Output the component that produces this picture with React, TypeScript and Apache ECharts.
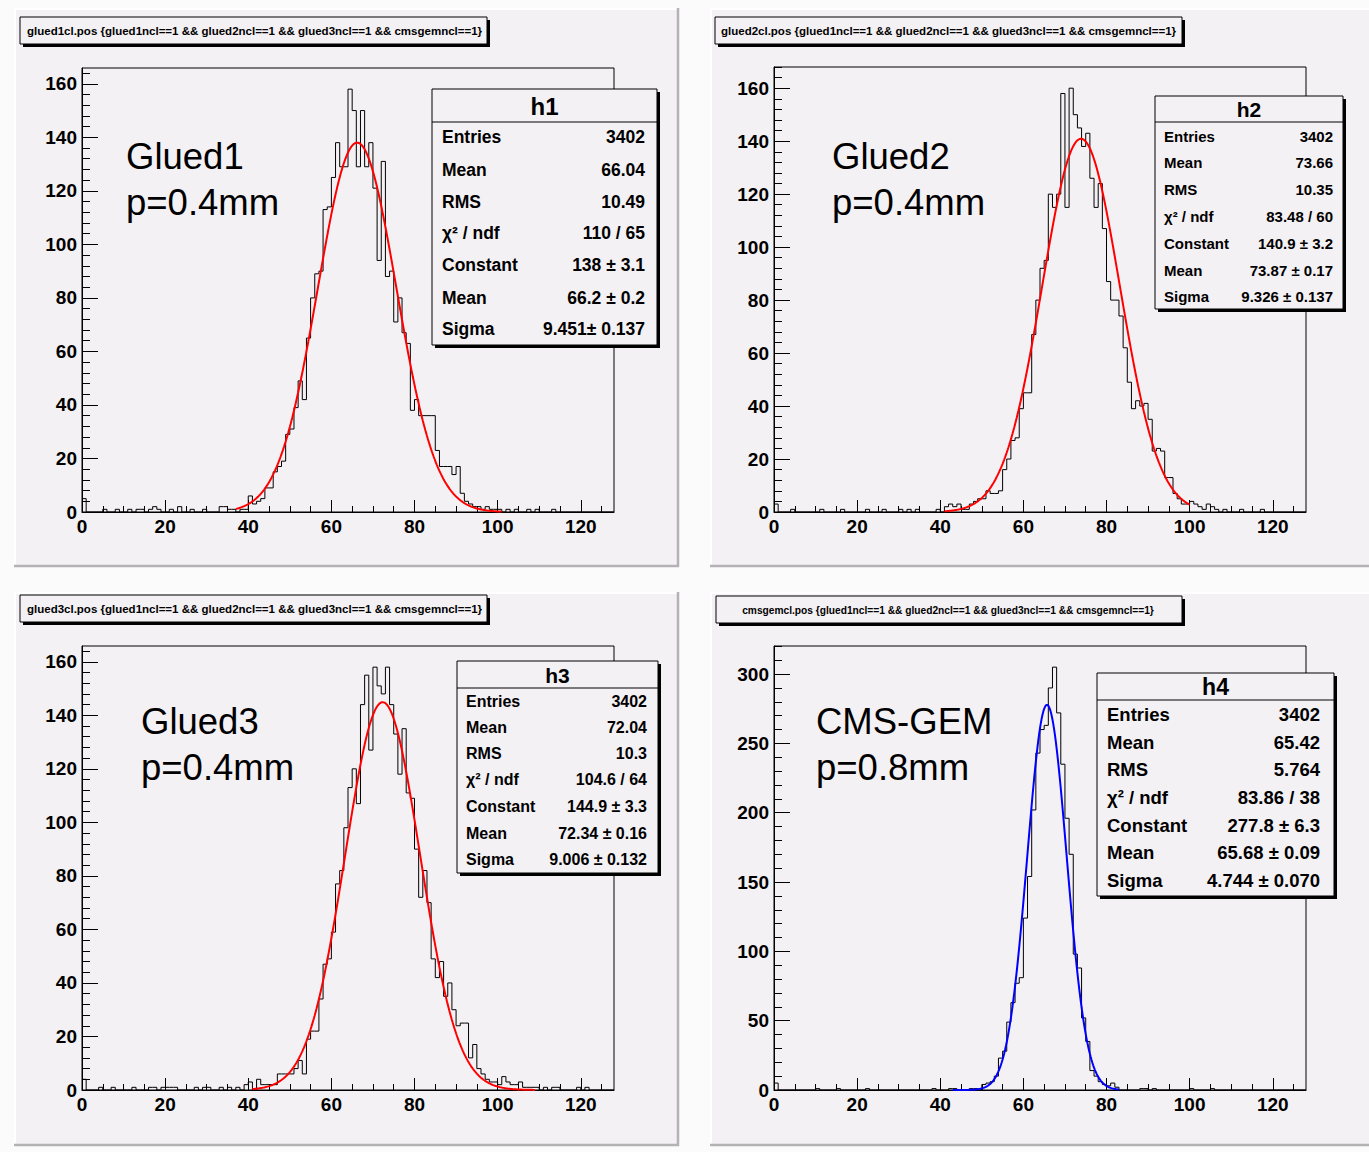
import React, { useEffect, useRef } from "react";
import * as echarts from "echarts";

const W = 1369;
const H = 1152;
const FONT = '"Liberation Sans", Arial, Helvetica, sans-serif';

// ---------- DATA ----------
// bin contents, bins of width 1 from 0 to 128
const h1Counts = [
  5, 0, 0, 0, 0, 1, 0, 0, 1, 0,
  0, 1, 0, 1, 1, 0, 1, 2, 1, 0,
  0, 1, 0, 2, 0, 0, 1, 0, 0, 1,
  0, 0, 0, 2, 2, 1, 1, 0, 1, 1,
  6, 3, 4, 5, 9, 9, 15, 17, 19, 29,
  31, 39, 49, 42, 65, 80, 89, 90, 113, 114,
  125, 138, 129, 129, 158, 150, 129, 150, 129, 138,
  121, 94, 131, 88, 90, 71, 80, 67, 63, 38,
  42, 36, 36, 36, 36, 23, 17, 17, 17, 14,
  17, 7, 4, 3, 2, 2, 1, 2, 1, 1,
  1, 0, 1, 0, 1, 0, 0, 1, 0, 1,
  0, 0, 0, 1, 0, 0, 0, 0, 0, 0,
  0, 0, 0, 0, 0, 0, 0, 0,
];
const h2Counts = [
  3, 0, 0, 0, 1, 0, 0, 0, 0, 0,
  0, 1, 0, 0, 0, 0, 1, 0, 0, 0,
  0, 0, 1, 0, 0, 0, 1, 0, 0, 0,
  1, 0, 1, 0, 1, 0, 0, 0, 0, 1,
  0, 2, 3, 2, 3, 1, 1, 3, 4, 5,
  5, 8, 7, 7, 8, 16, 20, 27, 28, 39,
  45, 45, 67, 80, 92, 95, 120, 115, 120, 158,
  115, 160, 150, 145, 138, 143, 126, 115, 124, 107,
  87, 80, 80, 74, 62, 49, 39, 42, 40, 41,
  35, 23, 24, 23, 13, 13, 7, 5, 3, 3,
  4, 3, 2, 1, 3, 2, 1, 0, 1, 0,
  0, 0, 1, 0, 0, 0, 0, 1, 0, 0,
  0, 0, 0, 0, 0, 0, 0, 0,
];
const h3Counts = [
  4, 0, 0, 0, 1, 0, 0, 1, 0, 0,
  0, 0, 1, 0, 0, 0, 1, 1, 0, 1,
  1, 1, 1, 0, 0, 0, 0, 1, 0, 1,
  1, 0, 0, 1, 0, 1, 0, 1, 0, 2,
  3, 0, 4, 2, 2, 2, 2, 6, 6, 6,
  6, 8, 11, 6, 19, 22, 22, 34, 47, 49,
  59, 77, 82, 98, 113, 120, 107, 144, 155, 127,
  158, 151, 148, 158, 144, 133, 118, 135, 111, 109,
  90, 72, 82, 70, 49, 42, 48, 35, 40, 30,
  24, 25, 25, 12, 17, 8, 6, 4, 3, 3,
  2, 5, 3, 2, 2, 3, 1, 1, 1, 1,
  0, 1, 0, 1, 1, 0, 0, 0, 0, 1,
  0, 1, 0, 0, 0, 0, 0, 0,
];
const h4Counts = [
  5, 0, 0, 0, 0, 0, 0, 0, 0, 0,
  1, 0, 0, 0, 0, 1, 0, 0, 0, 0,
  0, 0, 1, 0, 0, 0, 0, 0, 0, 0,
  0, 0, 0, 0, 0, 0, 0, 0, 1, 0,
  0, 0, 1, 1, 0, 0, 0, 1, 1, 0,
  4, 5, 6, 10, 23, 28, 49, 63, 77, 81,
  124, 154, 202, 243, 260, 263, 290, 305, 272, 235,
  196, 170, 98, 88, 52, 35, 14, 10, 6, 4,
  3, 5, 2, 0, 0, 0, 0, 0, 1, 1,
  0, 1, 0, 0, 0, 0, 0, 0, 0, 0,
  1, 0, 0, 0, 0, 1, 0, 0, 0, 0,
  0, 0, 0, 0, 0, 0, 0, 0, 0, 0,
  0, 0, 0, 0, 0, 0, 0, 0,
];
const histCounts = [h1Counts, h2Counts, h3Counts, h4Counts];

const histNames = ["h1", "h2", "h3", "h4"];
const drawTitles = [
  "glued1cl.pos {glued1ncl==1 && glued2ncl==1 && glued3ncl==1 && cmsgemncl==1}",
  "glued2cl.pos {glued1ncl==1 && glued2ncl==1 && glued3ncl==1 && cmsgemncl==1}",
  "glued3cl.pos {glued1ncl==1 && glued2ncl==1 && glued3ncl==1 && cmsgemncl==1}",
  "cmsgemcl.pos {glued1ncl==1 && glued2ncl==1 && glued3ncl==1 && cmsgemncl==1}",
];
const panelLabels = [
  ["Glued1", "p=0.4mm"],
  ["Glued2", "p=0.4mm"],
  ["Glued3", "p=0.4mm"],
  ["CMS-GEM", "p=0.8mm"],
];
const statLabels = ["Entries", "Mean", "RMS", "χ² / ndf", "Constant", "Mean", "Sigma"];
const h1Stats = ["3402", "66.04", "10.49", "110 / 65", "138 ± 3.1", "66.2 ± 0.2", "9.451± 0.137"];
const h2Stats = ["3402", "73.66", "10.35", "83.48 / 60", "140.9 ± 3.2", "73.87 ± 0.17", "9.326 ± 0.137"];
const h3Stats = ["3402", "72.04", "10.3", "104.6 / 64", "144.9 ± 3.3", "72.34 ± 0.16", "9.006 ± 0.132"];
const h4Stats = ["3402", "65.42", "5.764", "83.86 / 38", "277.8 ± 6.3", "65.68 ± 0.09", "4.744 ± 0.070"];
const statValues = [h1Stats, h2Stats, h3Stats, h4Stats];

// Gaussian fit parameters (as displayed in the stat boxes)
const fitConstant = [138, 140.9, 144.9, 277.8];
const fitMean = [66.2, 73.87, 72.34, 65.68];
const fitSigma = [9.451, 9.326, 9.006, 4.744];
const fitRangeLow = [37, 41, 41, 43];
const fitRangeHigh = [101, 100, 109, 83];
const fitColors = ["#ff0000", "#ff0000", "#ff0000", "#0000ff"];

const xMin = 0;
const xMax = 128;
const xTickLabels = [0, 20, 40, 60, 80, 100, 120];
const yTickLabelsSmall = [0, 20, 40, 60, 80, 100, 120, 140, 160];
const yTickLabelsLarge = [0, 50, 100, 150, 200, 250, 300];
const yTickSets = [yTickLabelsSmall, yTickLabelsSmall, yTickLabelsSmall, yTickLabelsLarge];
const yMinorSteps = [4, 4, 4, 10];
const xMinorStep = 5;

// ---------- LAYOUT ----------
const layout = [
  {
    pad: { x: 14, y: 8, w: 665, h: 559 },
    grid: { left: 82, top: 68, width: 532, height: 444 },
    title: { x: 20, y: 17, w: 467, h: 27, tx: 27, align: "left", size: 11.5 },
    stat: { x: 432, y: 89, w: 225, h: 256, line: 122, headY: 106, rows: [137, 170, 202, 233, 265, 298, 329], lx: 442, rx: 645, size: 17.5, head: 24 },
    label: { x: 126, y: [156, 202] },
  },
  {
    pad: { x: 710, y: 8, w: 665, h: 559 },
    grid: { left: 774, top: 67, width: 532, height: 445 },
    title: { x: 715, y: 17, w: 467, h: 27, tx: 721, align: "left", size: 11.5 },
    stat: { x: 1155, y: 96, w: 188, h: 213, line: 122, headY: 109, rows: [136, 162, 189, 216, 243, 270, 296], lx: 1164, rx: 1333, size: 15, head: 21 },
    label: { x: 832, y: [156, 202] },
  },
  {
    pad: { x: 14, y: 592, w: 665, h: 554 },
    grid: { left: 82, top: 646, width: 532, height: 444 },
    title: { x: 20, y: 595, w: 467, h: 27, tx: 27, align: "left", size: 11.5 },
    stat: { x: 457, y: 661, w: 201, h: 212, line: 688, headY: 675, rows: [701, 727, 753, 779, 806, 833, 859], lx: 466, rx: 647, size: 16, head: 21 },
    label: { x: 141, y: [721, 767] },
  },
  {
    pad: { x: 710, y: 592, w: 665, h: 554 },
    grid: { left: 774, top: 646, width: 532, height: 444 },
    title: { x: 716, y: 596, w: 466, h: 27, tx: 948, align: "center", size: 10.2 },
    stat: { x: 1097, y: 673, w: 237, h: 223, line: 700, headY: 687, rows: [714, 742, 769, 797, 825, 852, 880], lx: 1107, rx: 1320, size: 18.5, head: 23 },
    label: { x: 816, y: [721, 767] },
  },
];

const PAD_FILL = "#f4f1f4";
const PAGE_FILL = "#fcfbfc";

function tickRange(step: number, max: number) {
  const out: number[] = [];
  for (let v = 0; v <= max + 1e-9; v += step) out.push(v);
  return out;
}

function buildOption() {
  const grids: any[] = [];
  const xAxes: any[] = [];
  const yAxes: any[] = [];
  const series: any[] = [];
  const graphics: any[] = [];

  layout.forEach((L) => {
    grids.push({
      left: L.grid.left, top: L.grid.top, width: L.grid.width, height: L.grid.height,
      show: true, borderColor: "#000", borderWidth: 1, backgroundColor: "transparent",
      containLabel: false,
    });
  });
  layout.forEach((L) => {
    grids.push({
      left: L.grid.left, top: L.grid.top, width: L.grid.width, height: L.grid.height,
      show: false, containLabel: false,
    });
  });

  const labelStyle = { color: "#000", fontFamily: FONT, fontWeight: "bold", fontSize: 19 };

  histCounts.forEach((counts, i) => {
    const yMax = Math.max(...counts) * 1.05;
    const yTicks = yTickSets[i];
    xAxes.push({
      type: "value", gridIndex: i, min: xMin, max: xMax,
      axisLine: { show: true, onZero: false, lineStyle: { color: "#000", width: 1 } },
      axisTick: { show: true, inside: true, length: 12, customValues: xTickLabels, lineStyle: { color: "#000", width: 1 } },
      axisLabel: { show: true, customValues: xTickLabels, margin: 5, ...labelStyle },
      splitLine: { show: false },
    });
    yAxes.push({
      type: "value", gridIndex: i, min: 0, max: yMax,
      axisLine: { show: true, onZero: false, lineStyle: { color: "#000", width: 1 } },
      axisTick: { show: true, inside: true, length: 16, customValues: yTicks, lineStyle: { color: "#000", width: 1 } },
      axisLabel: { show: true, customValues: yTicks, margin: 5, ...labelStyle },
      splitLine: { show: false },
    });

    const histData = counts.map((v, k) => [xMin + k, v]);
    histData.push([xMin + counts.length, counts[counts.length - 1]]);
    series.push({
      type: "line", xAxisIndex: i, yAxisIndex: i, step: "end", symbol: "none",
      data: histData, lineStyle: { color: "#000", width: 1 }, z: 3, silent: true, animation: false,
    });

    const fitData: number[][] = [];
    for (let x = fitRangeLow[i]; x <= fitRangeHigh[i] + 1e-9; x += 0.2) {
      const d = (x - fitMean[i]) / fitSigma[i];
      fitData.push([x, fitConstant[i] * Math.exp(-0.5 * d * d)]);
    }
    series.push({
      type: "line", xAxisIndex: i, yAxisIndex: i, symbol: "none", smooth: false,
      data: fitData, lineStyle: { color: fitColors[i], width: 2 }, z: 4, silent: true, animation: false,
    });
  });

  histCounts.forEach((counts, i) => {
    const yMax = Math.max(...counts) * 1.05;
    xAxes.push({
      type: "value", gridIndex: i + 4, min: xMin, max: xMax,
      axisLine: { show: false },
      axisTick: { show: true, inside: true, length: 6, customValues: tickRange(xMinorStep, xMax), lineStyle: { color: "#000", width: 1 } },
      axisLabel: { show: false },
      splitLine: { show: false },
    });
    yAxes.push({
      type: "value", gridIndex: i + 4, min: 0, max: yMax,
      axisLine: { show: false },
      axisTick: { show: true, inside: true, length: 8, customValues: tickRange(yMinorSteps[i], yMax), lineStyle: { color: "#000", width: 1 } },
      axisLabel: { show: false },
      splitLine: { show: false },
    });
  });

  graphics.push({ type: "rect", z: -20, shape: { x: 0, y: 0, width: W, height: H }, style: { fill: PAGE_FILL } });
  layout.forEach((L, i) => {
    const p = L.pad;
    graphics.push({ type: "rect", z: -15, shape: { x: p.x, y: p.y, width: p.w, height: p.h }, style: { fill: PAD_FILL } });
    graphics.push({ type: "line", z: -14, shape: { x1: p.x, y1: p.y + 1, x2: p.x + p.w, y2: p.y + 1 }, style: { stroke: "#ffffff", lineWidth: 2 } });
    graphics.push({ type: "line", z: -14, shape: { x1: p.x + 1, y1: p.y, x2: p.x + 1, y2: p.y + p.h }, style: { stroke: "#ffffff", lineWidth: 2 } });
    graphics.push({ type: "line", z: -14, shape: { x1: p.x + p.w - 1, y1: p.y, x2: p.x + p.w - 1, y2: p.y + p.h }, style: { stroke: "#b4b2b4", lineWidth: 2.5 } });
    graphics.push({ type: "line", z: -14, shape: { x1: p.x, y1: p.y + p.h - 1, x2: p.x + p.w, y2: p.y + p.h - 1 }, style: { stroke: "#b4b2b4", lineWidth: 2.5 } });

    const t = L.title;
    graphics.push({ type: "rect", z: 20, shape: { x: t.x + 3, y: t.y + 3, width: t.w, height: t.h }, style: { fill: "#000" } });
    graphics.push({ type: "rect", z: 21, shape: { x: t.x, y: t.y, width: t.w, height: t.h }, style: { fill: PAD_FILL, stroke: "#000", lineWidth: 1 } });
    graphics.push({
      type: "text", z: 22, x: t.tx, y: t.y + t.h / 2 + 0.5,
      style: { text: drawTitles[i], fill: "#000", font: `bold ${t.size}px ${FONT}`, textAlign: t.align, textVerticalAlign: "middle" },
    });

    const s = L.stat;
    graphics.push({ type: "rect", z: 20, shape: { x: s.x + 3, y: s.y + 3, width: s.w, height: s.h }, style: { fill: "#000" } });
    graphics.push({ type: "rect", z: 21, shape: { x: s.x, y: s.y, width: s.w, height: s.h }, style: { fill: PAD_FILL, stroke: "#000", lineWidth: 1 } });
    graphics.push({ type: "line", z: 22, shape: { x1: s.x, y1: s.line, x2: s.x + s.w, y2: s.line }, style: { stroke: "#000", lineWidth: 1 } });
    graphics.push({
      type: "text", z: 22, x: s.x + s.w / 2, y: s.headY,
      style: { text: histNames[i], fill: "#000", font: `bold ${s.head}px ${FONT}`, textAlign: "center", textVerticalAlign: "middle" },
    });
    statLabels.forEach((lab, r) => {
      graphics.push({
        type: "text", z: 22, x: s.lx, y: s.rows[r],
        style: { text: lab, fill: "#000", font: `bold ${s.size}px ${FONT}`, textAlign: "left", textVerticalAlign: "middle" },
      });
      graphics.push({
        type: "text", z: 22, x: s.rx, y: s.rows[r],
        style: { text: statValues[i][r], fill: "#000", font: `bold ${s.size}px ${FONT}`, textAlign: "right", textVerticalAlign: "middle" },
      });
    });

    panelLabels[i].forEach((txt, r) => {
      graphics.push({
        type: "text", z: 22, x: L.label.x, y: L.label.y[r],
        style: { text: txt, fill: "#000", font: `36.5px ${FONT}`, textAlign: "left", textVerticalAlign: "middle" },
      });
    });
  });

  return {
    animation: false,
    backgroundColor: PAGE_FILL,
    grid: grids,
    xAxis: xAxes,
    yAxis: yAxes,
    series,
    graphic: { elements: graphics },
  };
}

export default function App() {
  const ref = useRef<HTMLDivElement>(null);
  useEffect(() => {
    if (!ref.current) return;
    const chart = echarts.init(ref.current, undefined, { renderer: "svg", width: W, height: H });
    chart.setOption(buildOption() as any);
    return () => chart.dispose();
  }, []);
  return (
    <div
      ref={ref}
      style={{ position: "absolute", left: 0, top: 0, width: W, height: H, background: PAGE_FILL }}
    />
  );
}
